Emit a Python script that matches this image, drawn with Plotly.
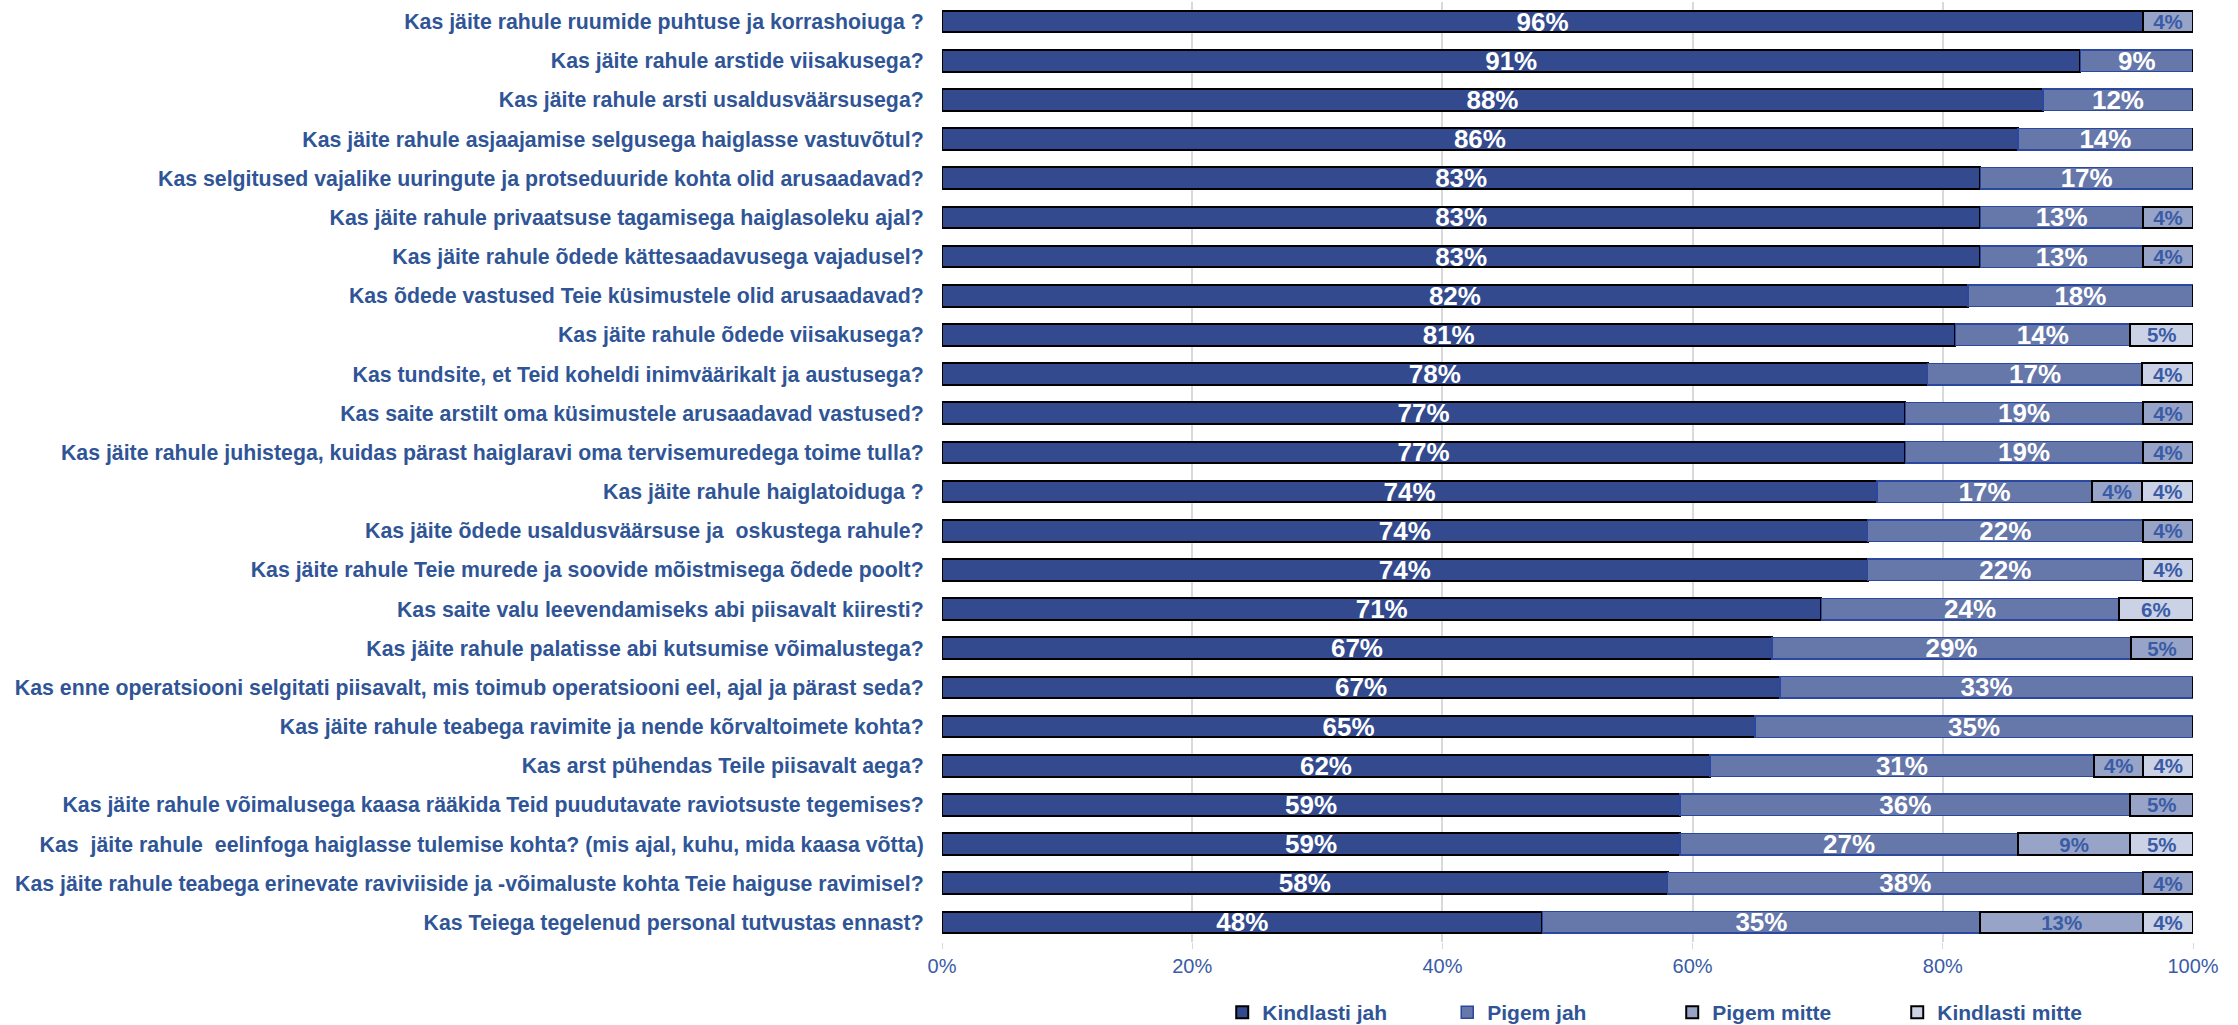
import plotly.graph_objects as go

categories = [
    "Kas jäite rahule ruumide puhtuse ja korrashoiuga ?",
    "Kas jäite rahule arstide viisakusega?",
    "Kas jäite rahule arsti usaldusväärsusega?",
    "Kas jäite rahule asjaajamise selgusega haiglasse vastuvõtul?",
    "Kas selgitused vajalike uuringute ja protseduuride kohta olid arusaadavad?",
    "Kas jäite rahule privaatsuse tagamisega haiglasoleku ajal?",
    "Kas jäite rahule õdede kättesaadavusega vajadusel?",
    "Kas õdede vastused Teie küsimustele olid arusaadavad?",
    "Kas jäite rahule õdede viisakusega?",
    "Kas tundsite, et Teid koheldi inimväärikalt ja austusega?",
    "Kas saite arstilt oma küsimustele arusaadavad vastused?",
    "Kas jäite rahule juhistega, kuidas pärast haiglaravi oma tervisemuredega toime tulla?",
    "Kas jäite rahule haiglatoiduga ?",
    "Kas jäite õdede usaldusväärsuse ja  oskustega rahule?",
    "Kas jäite rahule Teie murede ja soovide mõistmisega õdede poolt?",
    "Kas saite valu leevendamiseks abi piisavalt kiiresti?",
    "Kas jäite rahule palatisse abi kutsumise võimalustega?",
    "Kas enne operatsiooni selgitati piisavalt, mis toimub operatsiooni eel, ajal ja pärast seda?",
    "Kas jäite rahule teabega ravimite ja nende kõrvaltoimete kohta?",
    "Kas arst pühendas Teile piisavalt aega?",
    "Kas jäite rahule võimalusega kaasa rääkida Teid puudutavate raviotsuste tegemises?",
    "Kas  jäite rahule  eelinfoga haiglasse tulemise kohta? (mis ajal, kuhu, mida kaasa võtta)",
    "Kas jäite rahule teabega erinevate raviviiside ja -võimaluste kohta Teie haiguse ravimisel?",
    "Kas Teiega tegelenud personal tutvustas ennast?",
]

kindlasti_jah = [96, 91, 88, 86, 83, 83, 83, 82, 81, 78, 77, 77, 74, 74, 74, 71, 67, 67, 65, 62, 59, 59, 58, 48]
pigem_jah = [0, 9, 12, 14, 17, 13, 13, 18, 14, 17, 19, 19, 17, 22, 22, 24, 29, 33, 35, 31, 36, 27, 38, 35]
pigem_mitte = [4, 0, 0, 0, 0, 4, 4, 0, 0, 0, 4, 4, 4, 4, 0, 0, 5, 0, 0, 4, 5, 9, 4, 13]
kindlasti_mitte = [0, 0, 0, 0, 0, 0, 0, 0, 5, 4, 0, 0, 4, 0, 4, 6, 0, 0, 0, 4, 0, 5, 0, 4]

series_names = ["Kindlasti jah", "Pigem jah", "Pigem mitte", "Kindlasti mitte"]
x_ticks = [0, 20, 40, 60, 80, 100]

FONT = "Liberation Sans, Arial, sans-serif"
BLUE_TEXT = "#2f5597"
LABEL_BLUE = "#3a5ca6"

styles = [
    dict(fill="#334a8e", line="#000000", lw=2, tcol="#ffffff", tsize=26),
    dict(fill="#6677aa", line="#2b47a0", lw=1.5, tcol="#ffffff", tsize=26),
    dict(fill="#98a4c7", line="#000000", lw=2, tcol=LABEL_BLUE, tsize=20.5),
    dict(fill="#ccd2e5", line="#000000", lw=2, tcol=LABEL_BLUE, tsize=20.5),
]

fig = go.Figure()
for name, vals, st in zip(series_names,
                          [kindlasti_jah, pigem_jah, pigem_mitte, kindlasti_mitte],
                          styles):
    fig.add_trace(go.Bar(
        name=name,
        y=categories,
        x=vals,
        orientation="h",
        marker=dict(color=st["fill"], line=dict(color=st["line"], width=st["lw"])),
        text=[f"{v}%" if v > 0 else "" for v in vals],
        textposition="inside",
        insidetextanchor="middle",
        textangle=0,
        constraintext="none",
        textfont=dict(family=FONT, size=st["tsize"], color=st["tcol"], weight="bold"),
        hoverinfo="skip",
    ))

fig.update_layout(
    barmode="stack",
    barnorm="percent",
    bargap=0.45,
    width=2238,
    height=1025,
    paper_bgcolor="white",
    plot_bgcolor="white",
    margin=dict(l=942, r=45, t=2, b=83, autoexpand=False),
    font=dict(family=FONT, color=BLUE_TEXT),
    showlegend=True,
    legend=dict(
        orientation="h",
        x=0.224, xanchor="left",
        y=-0.075, yanchor="middle",
        font=dict(family=FONT, size=21, color=BLUE_TEXT, weight="bold"),
        entrywidth=180,
        traceorder="normal",
        itemclick=False,
    ),
)

fig.update_xaxes(
    range=[0, 100],
    tickvals=x_ticks,
    ticktext=[f"{v}%" for v in x_ticks],
    showgrid=True,
    gridcolor="#d9d9d9",
    gridwidth=1.5,
    zeroline=False,
    showline=False,
    ticks="outside",
    ticklen=6,
    tickcolor="#d9d9d9",
    tickfont=dict(family=FONT, size=20, color=LABEL_BLUE),
)

fig.update_yaxes(
    categoryorder="array",
    categoryarray=categories,
    autorange="reversed",
    showgrid=False,
    ticks="outside",
    ticklen=13,
    tickcolor="rgba(0,0,0,0)",
    tickfont=dict(family=FONT, size=21.3, color=BLUE_TEXT, weight="bold"),
)

fig.write_html("out.html", config={"displayModeBar": False},
               post_script="document.body.style.margin='0';")
